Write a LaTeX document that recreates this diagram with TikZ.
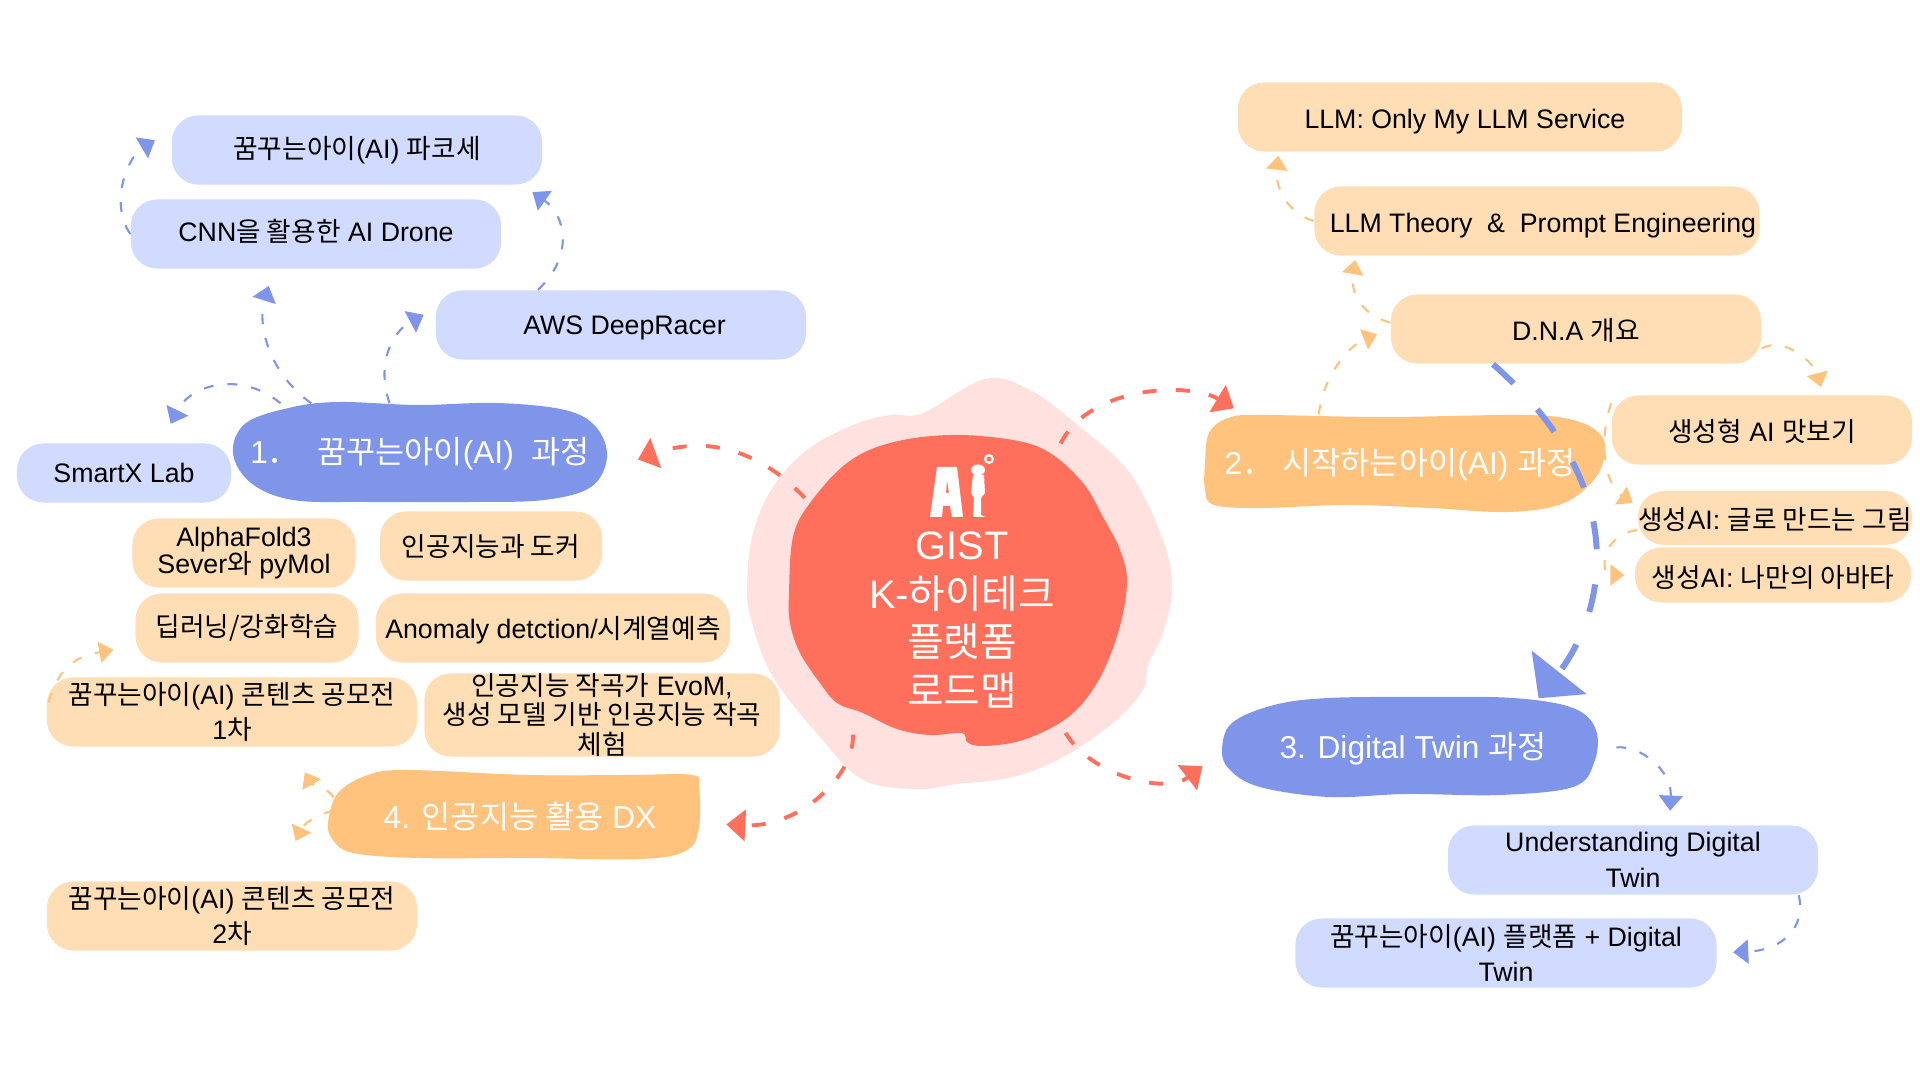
\documentclass[tikz,border=0pt]{standalone}
\usepackage{fontspec}
\usetikzlibrary{arrows.meta}
\setmainfont{Liberation Sans}
\newfontfamily\krfont{Noto Sans CJK KR}
\newcommand{\kr}[1]{{\krfont #1}}
\newcommand{\nudge}[3]{\hspace*{#1}\raisebox{#2}[\height][\depth]{#3}}
\definecolor{hmcoral}{RGB}{255,112,92}
\definecolor{hmpale}{RGB}{255,226,223}
\definecolor{hmblue}{RGB}{127,149,234}
\definecolor{hmlightblue}{RGB}{209,218,255}
\definecolor{hmorange}{RGB}{255,195,126}
\definecolor{hmlightorange}{RGB}{255,221,181}
\tikzstyle{leaf} = [rectangle, rounded corners=7.5pt, minimum width=3.7cm, minimum height=0.69cm, inner sep=0pt, align=center, text=black, font=\fontsize{7.6}{10.1}\selectfont]
\tikzstyle{leafblue} = [leaf, fill=hmlightblue]
\tikzstyle{leaforange} = [leaf, fill=hmlightorange]
\tikzstyle{branch} = [rectangle, inner sep=0pt, minimum height=1cm, text=white, font=\fontsize{9}{11}\selectfont]
\tikzstyle{hubflow} = [draw=hmcoral, line width=1.1pt, dash pattern=on 4pt off 5.5pt, -{Triangle[length=5.4pt, width=8.8pt, fill=hmcoral]}]
\tikzstyle{blueflow} = [draw=hmblue, line width=0.6pt, dash pattern=on 2.8pt off 4pt, -{Triangle[length=4.3pt, width=6.8pt, fill=hmblue]}]
\tikzstyle{orangeflow} = [draw=hmorange, line width=0.6pt, dash pattern=on 2.8pt off 4pt, -{Triangle[length=4pt, width=6pt, fill=hmorange]}]
\begin{document}
\begin{tikzpicture}[x=0.01cm, y=-0.01cm]
\useasboundingbox (0,0) rectangle (1920,1080);

% Hub blobs
\fill[hmpale] plot[smooth cycle, tension=0.6] coordinates {(923,413) (985,379) (1030,390) (1080,427) (1130,473) (1163,540) (1172,587) (1163,633) (1148,665) (1143,690) (1113,723) (1063,757) (1013,777) (957,784) (917,789) (863,780) (820,737) (773,677) (752,623) (747,587) (753,533) (773,487) (807,450) (853,425) (890,415)};
\fill[hmcoral] plot[smooth cycle, tension=0.6] coordinates {(950,435) (1013,440) (1050,453) (1083,483) (1103,517) (1120,550) (1127,583) (1118,633) (1097,683) (1067,718) (1023,740) (983,746) (967,742) (962,733) (930,735) (897,729) (863,713) (837,703) (820,683) (800,653) (790,623) (789,593) (793,537) (810,503) (847,463) (890,443)};

% Logo
\fill[white, even odd rule] (930,517) -- (937,467) -- (957,467) -- (963,517) -- (952,517) -- (950,506) -- (943,506) -- (942,517) -- cycle (946,493) -- (947,480) -- (949,493) -- cycle;
\fill[white] (978,470) ellipse (7 and 5.5);
\fill[white] (973,475) -- (984,475) -- (985,493) -- (981,498) -- (981,515) -- (985,517) -- (973,517) -- (974,498) -- (971,493) -- cycle;
\fill[white] (989,459) circle (5);
\fill[hmcoral] (989,459) circle (2.5);

\node[circle, minimum size=3.56cm, inner sep=0pt] (hub) at (958,590) {};
\node[inner sep=0pt, align=center, text=white, font=\fontsize{11.3}{13.9}\selectfont] (hubtitle) at (962,620) {GIST\\K-\kr{하이테크}\\\kr{플랫폼}\\\kr{로드맵}};

% Branch blobs
\fill[hmblue] plot[smooth cycle, tension=0.6] coordinates {(233,453) (246,423) (293,407) (340,402) (418,405) (497,403) (565,410) (596,427) (607,457) (591,487) (544,500) (471,502) (366,502) (293,500) (251,483)};
\fill[hmorange] plot[smooth cycle, tension=0.6] coordinates {(1205,463) (1209,433) (1228,418) (1260,415) (1384,417) (1523,415) (1573,420) (1599,433) (1605,450) (1596,477) (1564,503) (1509,512) (1430,508) (1347,505) (1260,508) (1214,505) (1205,490)};
\fill[hmblue] plot[smooth cycle, tension=0.6] coordinates {(1222,750) (1232,723) (1274,705) (1329,698) (1421,697) (1513,698) (1573,708) (1596,730) (1594,763) (1573,787) (1500,795) (1407,794) (1329,797) (1260,787) (1230,770)};
\fill[hmorange] plot[smooth cycle, tension=0.6] coordinates {(328,823) (338,793) (368,775) (408,770) (528,775) (627,775) (692,775) (699,787) (699,827) (687,850) (642,859) (527,858) (418,858) (353,853) (333,840)};

\node[branch, minimum width=3.74cm] (main1) at (420,454) {1\kr{．}\ \ \kr{꿈꾸는아이}(AI)\ \ \kr{과정}};
\node[branch, minimum width=4cm] (main2) at (1400,465) {2\kr{．}\ \kr{시작하는아이}(AI) \kr{과정}};
\node[branch, minimum width=3.75cm] (main3) at (1413,749) {3. Digital Twin \kr{과정}};
\node[branch, minimum width=3.71cm, minimum height=0.89cm] (main4) at (520,817) {4. \kr{인공지능 활용} DX};

% Course 1
\node[leafblue] (pacosse) at (357,150) {\kr{꿈꾸는아이}(AI) \kr{파코세}};
\node[leafblue] (drone) at (316,234) {\nudge{0pt}{0.7pt}{CNN\kr{을 활용한} AI Drone}};
\node[leafblue] (racer) at (621,325) {\nudge{2pt}{-0.7pt}{AWS DeepRacer}};
\node[leafblue, minimum width=2.14cm, minimum height=0.59cm] (smartx) at (124,473) {SmartX Lab};

% Course 2
\node[leaforange, minimum width=4.44cm] (service) at (1460,117) {\nudge{2.8pt}{-1.4pt}{LLM: Only My LLM Service}};
\node[leaforange, minimum width=4.45cm] (theory) at (1537,221) {\nudge{3.4pt}{-1.4pt}{LLM Theory\ \ \&\ \ Prompt Engineering}};
\node[leaforange] (dna) at (1576,329) {\nudge{0pt}{-0.3pt}{D.N.A \kr{개요}}};
\node[leaforange, minimum width=3cm] (taste) at (1762,430) {\nudge{0pt}{-0.3pt}{\kr{생성형} AI \kr{맛보기}}};
\node[leaforange, minimum width=2.74cm, minimum height=0.54cm] (drawing) at (1775,518) {\nudge{0pt}{-0.3pt}{\kr{생성}AI: \kr{글로 만드는 그림}}};
\node[leaforange, minimum width=2.76cm, minimum height=0.55cm] (avatar) at (1773,575) {\nudge{0pt}{-0.6pt}{\kr{생성}AI: \kr{나만의 아바타}}};

% Course 3
\node[leafblue] (twin) at (1633,860) {Understanding Digital\\Twin};
\node[leafblue, minimum width=4.21cm] (platform) at (1506,953) {\kr{꿈꾸는아이}(AI) \kr{플랫폼} + Digital\\Twin};

% Course 4
\node[leaforange, minimum width=2.23cm] (alphafold) at (244,553) {AlphaFold3\\[-2.4pt]Sever\kr{와} pyMol};
\node[leaforange, minimum width=2.22cm] (docker) at (491,546) {\kr{인공지능과 도커}};
\node[leaforange, minimum width=2.23cm] (deep) at (247,628) {\kr{딥러닝/강화학습}};
\node[leaforange, minimum width=3.54cm] (anomaly) at (553,628) {\nudge{0pt}{-0.7pt}{Anomaly detction/\kr{시계열예측}}};
\node[leaforange] (contest1) at (232,712) {\kr{꿈꾸는아이}(AI) \kr{콘텐츠 공모전}\\1\kr{차}};
\node[leaforange, minimum width=3.55cm, minimum height=0.7cm] (evom) at (602,715) {\kr{인공지능 작곡가} EvoM,\\[-1.7pt]\kr{생성 모델 기반 인공지능 작곡}\\[-1.7pt]\kr{체험}};
\node[leaforange] (contest2) at (232,916) {\kr{꿈꾸는아이}(AI) \kr{콘텐츠 공모전}\\2\kr{차}};

% Hub arrows
\draw[hubflow, shorten >=9.1pt] (hub.149) .. controls (755,445) and (700,437) .. (main1.-5);
\draw[hubflow, shorten >=3.3pt] (hub.55) .. controls (1090,385) and (1190,382) .. (main2.162);
\draw[hubflow, shorten >=8pt] (hub.-53) .. controls (1090,775) and (1165,795) .. (main3.west);
\draw[hubflow, shorten >=5.7pt] (hub.234) .. controls (855,775) and (800,828) .. (main4.-2);

% Course 1 arrows
\draw[blueflow, shorten >=6pt] (main1.160) .. controls (240,370) and (190,385) .. (smartx.39);
\draw[blueflow, shorten >=5pt] (main1.155) .. controls (265,370) and (258,320) .. (drone.220);
\draw[blueflow, shorten >=3.7pt] (main1.121) .. controls (375,360) and (395,330) .. (racer.175);
\draw[blueflow, shorten >=3.4pt] (racer.157) .. controls (575,255) and (565,215) .. (pacosse.-12);
\draw[blueflow, shorten >=5.4pt] (drone.west) .. controls (108,200) and (130,155) .. (pacosse.174);

% Course 2 arrows
\draw[orangeflow, shorten >=4pt] (main2.148) .. controls (1323,375) and (1350,345) .. (dna.west);
\draw[orangeflow, shorten >=1.1pt] (dna.178) .. controls (1360,315) and (1350,290) .. (theory.191);
\draw[orangeflow, shorten >=1pt] (theory.west) .. controls (1285,212) and (1275,185) .. (service.191);
\draw[orangeflow, shorten >=2.3pt] (dna.-6) .. controls (1785,335) and (1815,365) .. (taste.30);
\draw[orangeflow, shorten >=1.5pt] (taste.170) .. controls (1598,440) and (1605,485) .. (drawing.175);
\draw[orangeflow, shorten >=2.8pt] (drawing.185) .. controls (1600,535) and (1600,575) .. (avatar.west);

% Course 3 arrows
\draw[draw=hmblue, line width=1.7pt, dash pattern=on 8pt off 10pt, -{Triangle[length=9.4pt, width=19.6pt, fill=hmblue]}] (dna.203) .. controls (1646,499) and (1595,627) .. (main3.22);
\draw[blueflow, shorten <=4.3pt, shorten >=4pt] (main3.east) .. controls (1640,745) and (1672,770) .. (twin.44);
\draw[blueflow, shorten >=4.5pt] (twin.-12) .. controls (1806,925) and (1785,950) .. (platform.east);

% Course 4 arrows
\draw[orangeflow, shorten >=8.2pt] (main4.174) .. controls (325,785) and (312,785) .. (contest1.-31);
\draw[orangeflow, shorten >=12.5pt] (main4.178) .. controls (315,815) and (303,825) .. (contest2.38);
\draw[orangeflow, shorten <=2.8pt, shorten >=6.2pt] (contest1.west) .. controls (60,660) and (85,655) .. (deep.189);
\end{tikzpicture}
\end{document}
